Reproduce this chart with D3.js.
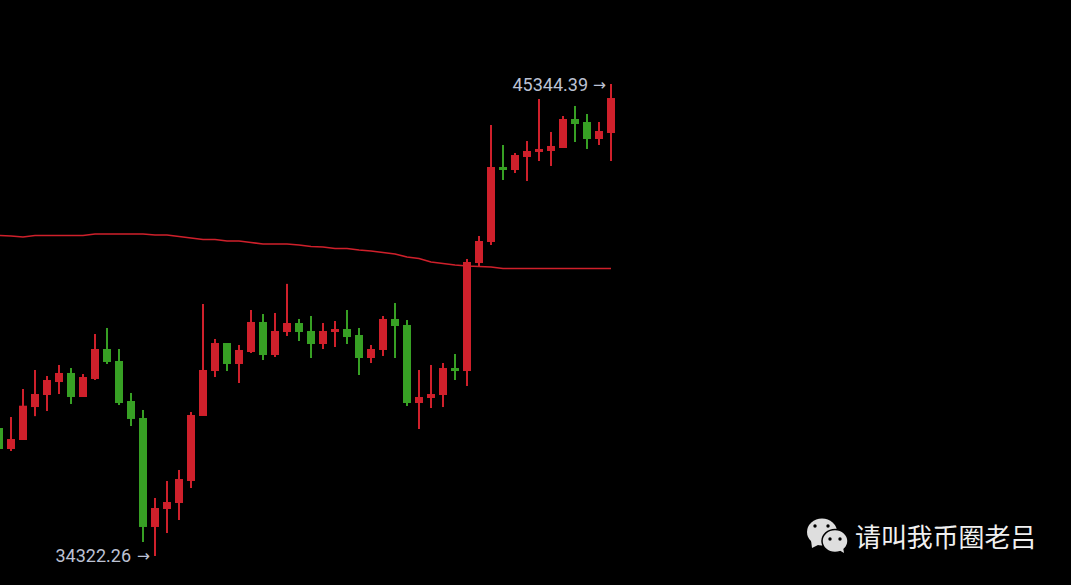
<!DOCTYPE html>
<html><head><meta charset="utf-8">
<script src="https://cdn.jsdelivr.net/npm/d3@7/dist/d3.min.js"></script>
<style>html,body{margin:0;padding:0;background:#000;overflow:hidden}svg{display:block}</style>
</head><body>
<script>
const opens=[37311,36821,37031,37801,38082,38385,38596,38035,38456,39156,38876,37942,37545,35000,35420,35560,36074,37592,38642,39296,38806,39086,39787,39016,39553,39763,39577,39273,39553,39623,39483,38946,39133,39857,39717,37895,38012,38082,38712,38642,41164,41655,43406,43336,43640,43757,43780,43850,44527,44457,44060,44200];
const closes=[36821,37054,37832,38105,38432,38596,38035,38502,39156,38853,37895,37522,35000,35443,35583,36120,37615,38666,39296,38806,39133,39787,39016,39577,39763,39553,39273,39577,39623,39436,38946,39156,39857,39693,37895,38035,38105,38712,38642,41188,41678,43406,43336,43686,43780,43827,43897,44527,44410,44060,44247,45017];
const highs=[37311,37568,38222,38666,38526,38783,38712,38572,39506,39647,39156,38129,37732,35677,36074,36331,37685,40207,39390,39296,39250,40067,39973,39997,40677,39857,39927,39763,39810,40067,39647,39250,39927,40230,39833,38666,38783,38829,39039,41258,41795,44387,43920,43733,44013,44994,44224,44597,44831,44644,44457,45344.39];
const lows=[36821,36774,37031,37588,37708,38105,37872,38035,38432,38806,37848,37358,34649,34322.26,34859,35163,35910,37592,38502,38642,38362,39063,38899,38969,39460,39343,38946,39156,39203,39273,38549,38829,38993,38946,37825,37288,37778,37801,38432,38292,41094,41585,43103,43266,43079,43546,43430,43850,43990,43827,43920,43546];
const ma=[41807,41795,41772,41807,41807,41807,41807,41807,41842,41842,41842,41842,41842,41818,41818,41783,41748,41713,41713,41678,41678,41643,41608,41608,41608,41585,41550,41538,41503,41503,41468,41445,41410,41375,41304,41269,41188,41153,41118,41094,41083,41071,41036,41036,41036,41036,41036,41036,41036,41036,41036,41036];
const highLabel="45344.39",lowLabel="34322.26",arrow="→",brand="请叫我币圈老吕";

const W=1071,H=585;
const svg=d3.select("body").append("svg").attr("width",W).attr("height",H).style("background","#000");
const x=d3.scaleLinear().domain([0,51]).range([-1,611]);
const y=d3.scaleLinear().domain([34322.26,45344.39]).range([556,84]);
const RED="#cf202b",GREEN="#37a024";
const idx=d3.range(opens.length);
const col=i=>closes[i]>=opens[i]?RED:GREEN;
svg.append("path").datum(ma).attr("fill","none").attr("stroke",RED).attr("stroke-width",1.6)
  .attr("d",d3.line().x((d,i)=>x(i)).y(d=>y(d)));
const g=svg.append("g").selectAll("g").data(idx).join("g");
g.append("rect").attr("x",i=>x(i)-1).attr("width",2)
  .attr("y",i=>y(highs[i])).attr("height",i=>Math.max(0,y(lows[i])-y(highs[i]))).attr("fill",col);
g.append("rect").attr("x",i=>x(i)-4).attr("width",8)
  .attr("y",i=>y(Math.max(opens[i],closes[i]))).attr("height",i=>Math.abs(y(opens[i])-y(closes[i]))).attr("fill",col);
const lab="#bcc2d4";
function label(t,xx,yy){
  svg.append("text").attr("x",xx).attr("y",yy).attr("fill",lab).attr("font-family","Roboto").attr("font-size",18).text(t);
}
function arrowMark(xx,yy){
  svg.append("text").attr("x",xx).attr("y",yy).attr("fill",lab).attr("font-family","'DejaVu Sans'").attr("font-size",15.5).text(arrow);
}
label(highLabel,512.5,91);
arrowMark(593,90);
label(lowLabel,55.5,562);
arrowMark(137,561);
// WeChat mark
const m=svg.append("g").attr("fill","#dedede");
m.append("ellipse").attr("cx",822).attr("cy",532).attr("rx",15).attr("ry",13.5);
m.append("path").attr("d","M811 540L812 548L820 544Z");
m.append("ellipse").attr("cx",835).attr("cy",541).attr("rx",13).attr("ry",11.5).attr("stroke","#000").attr("stroke-width",1.5);
m.append("path").attr("d","M839 550L844 553L843 547Z");
const eyes=[[815,526],[828,526],[830,539],[840,539]];
m.selectAll("circle").data(eyes).join("circle").attr("cx",d=>d[0]).attr("cy",d=>d[1]).attr("r",1.7).attr("fill","#000");
svg.append("text").attr("x",855).attr("y",547).attr("fill","#f0f0f0").attr("font-family","'Noto Sans CJK SC'").attr("font-size",25.9).text(brand);
</script>
</body></html>
